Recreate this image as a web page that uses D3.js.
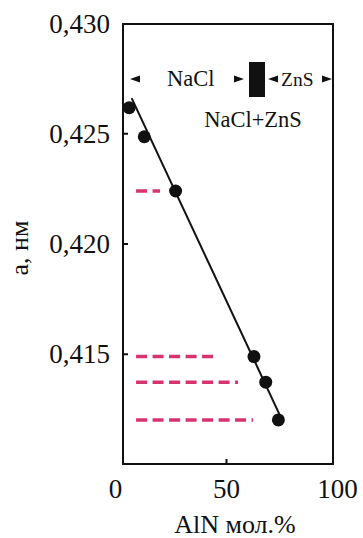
<!DOCTYPE html>
<html>
<head>
<meta charset="utf-8">
<script src="https://cdn.jsdelivr.net/npm/d3@7"></script>
<style>
  html, body { margin: 0; padding: 0; background: #fff; }
  svg { display: block; }
  svg text { font-family: "Liberation Serif", "Times New Roman", Times, "DejaVu Serif", serif !important; }
</style>
</head>
<body>
<svg id="chart" width="363" height="538"></svg>
<script>
// ---- data ----
const aln = [6.4, 13.2, 27.3, 62.6, 67.9, 73.6];          // AlN, mol.%
const latticeA = [0.42616, 0.42484, 0.42238, 0.41487, 0.41371, 0.41200]; // a, nm
const fitX = [7.5, 75.7];
const fitY = [0.42659, 0.41190];
const dashLevels = [0.42238, 0.41487, 0.41371, 0.41200];
const dashStartX = [9.5, 9.5, 9.5, 9.5];
const dashEndX = [20.3, 46.0, 55.4, 62.2];
const xTicks = [0, 50, 100];
const yTicks = [0.415, 0.420, 0.425, 0.430];

// ---- layout ----
const frame = { left: 123, right: 333, top: 24, bottom: 464 };
const svg = d3.select("#chart");

const x = d3.scaleLinear().domain([0, 100]).range([115, 337]);
const y = d3.scaleLinear().domain([0.410, 0.430]).range([464, 23]);

const pink = "#d8336f";

// frame
svg.append("rect")
  .attr("x", frame.left).attr("y", frame.top)
  .attr("width", frame.right - frame.left)
  .attr("height", frame.bottom - frame.top)
  .attr("fill", "none").attr("stroke", "#111").attr("stroke-width", 2);

// x axis
const xAxis = svg.append("g")
  .attr("transform", `translate(0,${frame.bottom})`)
  .call(d3.axisBottom(x).tickValues(xTicks).tickSize(-5).tickFormat(d3.format("d")));
xAxis.attr("font-family", null);
xAxis.select(".domain").remove();
xAxis.selectAll(".tick line")
  .attr("stroke", "#111").attr("stroke-width", 2)
  .attr("opacity", d => (d === 50 ? 1 : 0));
xAxis.selectAll(".tick text")
  .attr("y", 34).attr("dy", 0)
  .attr("font-size", 27).attr("fill", "#111");

// y axis
const yAxis = svg.append("g")
  .attr("transform", `translate(${frame.left},0)`)
  .call(d3.axisLeft(y).tickValues(yTicks).tickSize(-5)
    .tickFormat(d => d3.format(".3f")(d).replace(".", ",")));
yAxis.attr("font-family", null);
yAxis.select(".domain").remove();
yAxis.selectAll(".tick line")
  .attr("stroke", "#111").attr("stroke-width", 2)
  .attr("opacity", d => (d === 0.430 ? 0 : 1));
yAxis.selectAll(".tick text")
  .attr("x", -13).attr("dy", "0.34em")
  .attr("font-size", 27).attr("fill", "#111");

// axis titles
svg.append("text")
  .attr("x", 235).attr("y", 533)
  .attr("text-anchor", "middle")
  .attr("font-size", 26).attr("fill", "#111")
  .text("AlN мол.%");
svg.append("text")
  .attr("transform", "translate(28,248) rotate(-90)")
  .attr("text-anchor", "middle")
  .attr("font-size", 26).attr("fill", "#111")
  .text("a, нм");

// pink dashed lines
svg.append("g").selectAll("line")
  .data(dashLevels)
  .join("line")
  .attr("x1", (d, i) => x(dashStartX[i]))
  .attr("x2", (d, i) => x(dashEndX[i]))
  .attr("y1", d => y(d)).attr("y2", d => y(d))
  .attr("stroke", pink).attr("stroke-width", 3.5)
  .attr("stroke-dasharray", "11,5.5");

// fit line
svg.append("line")
  .attr("x1", x(fitX[0])).attr("y1", y(fitY[0]))
  .attr("x2", x(fitX[1])).attr("y2", y(fitY[1]))
  .attr("stroke", "#111").attr("stroke-width", 2);

// points
svg.append("g").selectAll("circle")
  .data(aln)
  .join("circle")
  .attr("cx", d => x(d))
  .attr("cy", (d, i) => y(latticeA[i]))
  .attr("r", 6.5)
  .attr("fill", "#111");

// phase annotations
const ann = svg.append("g").attr("fill", "#111");
const arrowY = 79;
function tri(x0, dir) { // dir -1 left, +1 right; x0 = tip x
  const w = 10, h = 3.6;
  return `M${x0},${arrowY} L${x0 - dir * w},${arrowY - h} L${x0 - dir * w},${arrowY + h} Z`;
}
ann.append("path").attr("d", tri(130, -1));
ann.append("path").attr("d", tri(244, 1));
ann.append("path").attr("d", tri(268, -1));
ann.append("path").attr("d", tri(332, 1));
ann.append("rect").attr("x", 249).attr("y", 62).attr("width", 16).attr("height", 35);
ann.append("text").attr("x", 167).attr("y", 86).attr("font-size", 22.5).text("NaCl");
ann.append("text").attr("x", 281).attr("y", 86).attr("font-size", 19.5).text("ZnS");
ann.append("text").attr("x", 253).attr("y", 127).attr("text-anchor", "middle")
  .attr("font-size", 22.5).text("NaCl+ZnS");
</script>
</body>
</html>
